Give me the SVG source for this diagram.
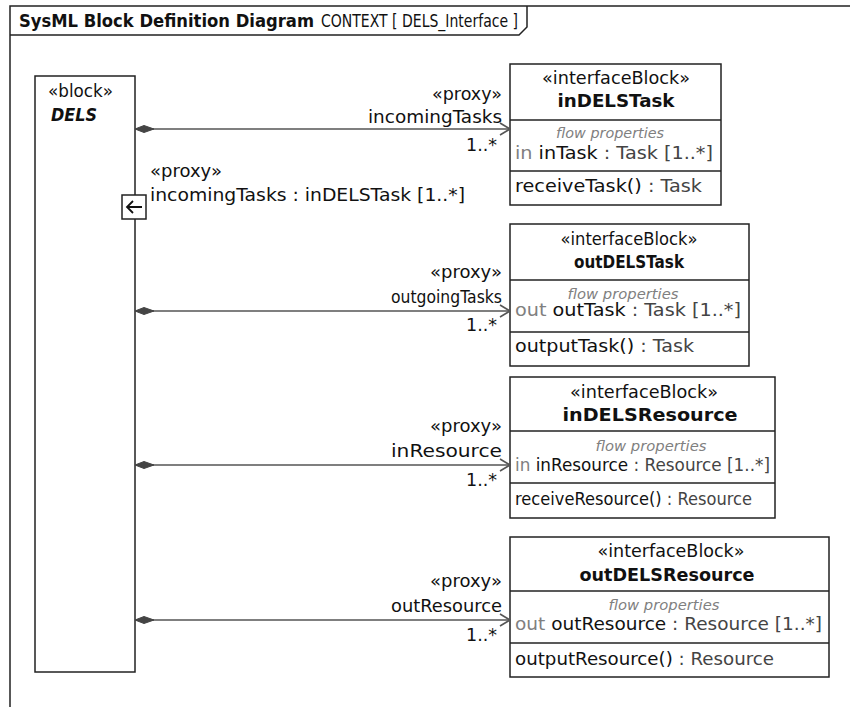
<svg xmlns="http://www.w3.org/2000/svg" width="850" height="707" viewBox="0 0 850 707">
  <style>
    text { font-family: "DejaVu Sans", Verdana, "Liberation Sans", sans-serif; font-size: 17px; fill: #111; }
    .title { font-size: 17px; }
    .b { font-weight: bold; }
    .bi { font-weight: bold; font-style: italic; }
    .fp { font-size: 14px; font-style: italic; fill: #808080; }
    .dir { fill: #808080; }
    .typ { fill: #444; }
    .box { fill: #fff; stroke: #222; stroke-width: 1.5; }
    .sep { stroke: #222; stroke-width: 1.5; }
    .conn { stroke: #555; stroke-width: 1.6; fill: none; }
    .mid { text-anchor: middle; }
    .end { text-anchor: end; }
  </style>
  <defs>
    <marker id="diamond" markerWidth="22" markerHeight="10" refX="1" refY="5" orient="auto" markerUnits="userSpaceOnUse">
      <path d="M1,5 L10,1.5 L20,5 L10,8.5 Z" fill="#444" stroke="#444" stroke-width="1"/>
    </marker>
    <marker id="open" markerWidth="12" markerHeight="14" refX="11" refY="7" orient="auto" markerUnits="userSpaceOnUse">
      <path d="M1,1 L11,7 L1,13" fill="none" stroke="#555" stroke-width="1.6"/>
    </marker>
  </defs>
  <rect width="850" height="707" fill="#fff"/>

  <!-- diagram frame -->
  <g id="frame">
    <path d="M10,707 V6 H850" fill="none" stroke="#222" stroke-width="1.5"/>
    <path d="M10,35 H519 L527,27 V6" fill="none" stroke="#222" stroke-width="1.5"/>
    <text x="19" y="27" class="title b" textLength="295" lengthAdjust="spacingAndGlyphs">SysML Block Definition Diagram</text>
    <text x="321" y="27" class="title" textLength="197" lengthAdjust="spacingAndGlyphs">CONTEXT [ DELS_Interface ]</text>
  </g>

  <!-- owning block -->
  <g id="DELS">
    <rect x="35" y="76" width="100" height="596" class="box"/>
    <text x="48" y="97" textLength="65" lengthAdjust="spacingAndGlyphs">«block»</text>
    <text x="51" y="121" class="bi" textLength="46" lengthAdjust="spacingAndGlyphs">DELS</text>
  </g>

  <!-- proxy port on DELS -->
  <g id="port-incomingTasks">
    <rect x="122" y="195" width="24" height="24" class="box"/>
    <path d="M142,207 H127 M133,201 L127,207 L133,213" fill="none" stroke="#111" stroke-width="1.8"/>
    <text x="150" y="177" textLength="72" lengthAdjust="spacingAndGlyphs">«proxy»</text>
    <text x="150" y="201" textLength="315" lengthAdjust="spacingAndGlyphs">incomingTasks : inDELSTask [1..*]</text>
  </g>

  <!-- interface blocks -->
  <g id="inDELSTask">
    <rect x="510" y="64" width="211" height="141" class="box"/>
    <line x1="510" y1="120" x2="721" y2="120" class="sep"/>
    <line x1="510" y1="171" x2="721" y2="171" class="sep"/>
    <text x="616" y="84" class="mid" textLength="148" lengthAdjust="spacingAndGlyphs">«interfaceBlock»</text>
    <text x="616" y="107" class="b mid" textLength="117" lengthAdjust="spacingAndGlyphs">inDELSTask</text>
    <text x="610" y="138" class="fp mid" textLength="108" lengthAdjust="spacingAndGlyphs">flow properties</text>
    <text x="515" y="159" textLength="198" lengthAdjust="spacingAndGlyphs"><tspan class="dir">in </tspan>inTask<tspan class="typ"> : Task [1..*]</tspan></text>
    <text x="515" y="192" textLength="187" lengthAdjust="spacingAndGlyphs">receiveTask()<tspan class="typ"> : Task</tspan></text>
  </g>

  <g id="outDELSTask">
    <rect x="510" y="224" width="239" height="142" class="box"/>
    <line x1="510" y1="280" x2="749" y2="280" class="sep"/>
    <line x1="510" y1="332" x2="749" y2="332" class="sep"/>
    <text x="629" y="245" class="mid" textLength="137" lengthAdjust="spacingAndGlyphs">«interfaceBlock»</text>
    <text x="629" y="268" class="b mid" textLength="110" lengthAdjust="spacingAndGlyphs">outDELSTask</text>
    <text x="623" y="299" class="fp mid" textLength="111" lengthAdjust="spacingAndGlyphs">flow properties</text>
    <text x="515" y="316" textLength="226" lengthAdjust="spacingAndGlyphs"><tspan class="dir">out </tspan>outTask<tspan class="typ"> : Task [1..*]</tspan></text>
    <text x="515" y="352" textLength="179" lengthAdjust="spacingAndGlyphs">outputTask()<tspan class="typ"> : Task</tspan></text>
  </g>

  <g id="inDELSResource">
    <rect x="510" y="377" width="265" height="141" class="box"/>
    <line x1="510" y1="431" x2="775" y2="431" class="sep"/>
    <line x1="510" y1="483" x2="775" y2="483" class="sep"/>
    <text x="644" y="398" class="mid" textLength="148" lengthAdjust="spacingAndGlyphs">«interfaceBlock»</text>
    <text x="650" y="421" class="b mid" textLength="175" lengthAdjust="spacingAndGlyphs">inDELSResource</text>
    <text x="651" y="451" class="fp mid" textLength="111" lengthAdjust="spacingAndGlyphs">flow properties</text>
    <text x="515" y="471" textLength="255" lengthAdjust="spacingAndGlyphs"><tspan class="dir">in </tspan>inResource<tspan class="typ"> : Resource [1..*]</tspan></text>
    <text x="515" y="505" textLength="237" lengthAdjust="spacingAndGlyphs">receiveResource()<tspan class="typ"> : Resource</tspan></text>
  </g>

  <g id="outDELSResource">
    <rect x="510" y="537" width="319" height="140" class="box"/>
    <line x1="510" y1="591" x2="829" y2="591" class="sep"/>
    <line x1="510" y1="643" x2="829" y2="643" class="sep"/>
    <text x="671" y="557" class="mid" textLength="147" lengthAdjust="spacingAndGlyphs">«interfaceBlock»</text>
    <text x="667" y="581" class="b mid" textLength="175" lengthAdjust="spacingAndGlyphs">outDELSResource</text>
    <text x="664" y="610" class="fp mid" textLength="111" lengthAdjust="spacingAndGlyphs">flow properties</text>
    <text x="515" y="630" textLength="307" lengthAdjust="spacingAndGlyphs"><tspan class="dir">out </tspan>outResource<tspan class="typ"> : Resource [1..*]</tspan></text>
    <text x="515" y="665" textLength="259" lengthAdjust="spacingAndGlyphs">outputResource()<tspan class="typ"> : Resource</tspan></text>
  </g>

  <!-- composite associations with role names and multiplicities -->
  <g id="connectors">
    <line x1="135" y1="129" x2="510" y2="129" class="conn" marker-start="url(#diamond)" marker-end="url(#open)"/>
    <text x="502" y="100" class="end" textLength="70" lengthAdjust="spacingAndGlyphs">«proxy»</text>
    <text x="502" y="123" class="end" textLength="134" lengthAdjust="spacingAndGlyphs">incomingTasks</text>
    <text x="497" y="151" class="end" textLength="31" lengthAdjust="spacingAndGlyphs">1..*</text>

    <line x1="135" y1="311" x2="510" y2="311" class="conn" marker-start="url(#diamond)" marker-end="url(#open)"/>
    <text x="502" y="278" class="end" textLength="72" lengthAdjust="spacingAndGlyphs">«proxy»</text>
    <text x="502" y="303" class="end" textLength="111" lengthAdjust="spacingAndGlyphs">outgoingTasks</text>
    <text x="497" y="331" class="end" textLength="31" lengthAdjust="spacingAndGlyphs">1..*</text>

    <line x1="135" y1="465" x2="510" y2="465" class="conn" marker-start="url(#diamond)" marker-end="url(#open)"/>
    <text x="502" y="432" class="end" textLength="72" lengthAdjust="spacingAndGlyphs">«proxy»</text>
    <text x="502" y="457" class="end" textLength="111" lengthAdjust="spacingAndGlyphs">inResource</text>
    <text x="497" y="486" class="end" textLength="31" lengthAdjust="spacingAndGlyphs">1..*</text>

    <line x1="135" y1="620" x2="510" y2="620" class="conn" marker-start="url(#diamond)" marker-end="url(#open)"/>
    <text x="502" y="587" class="end" textLength="72" lengthAdjust="spacingAndGlyphs">«proxy»</text>
    <text x="502" y="612" class="end" textLength="111" lengthAdjust="spacingAndGlyphs">outResource</text>
    <text x="497" y="641" class="end" textLength="31" lengthAdjust="spacingAndGlyphs">1..*</text>
  </g>
</svg>
